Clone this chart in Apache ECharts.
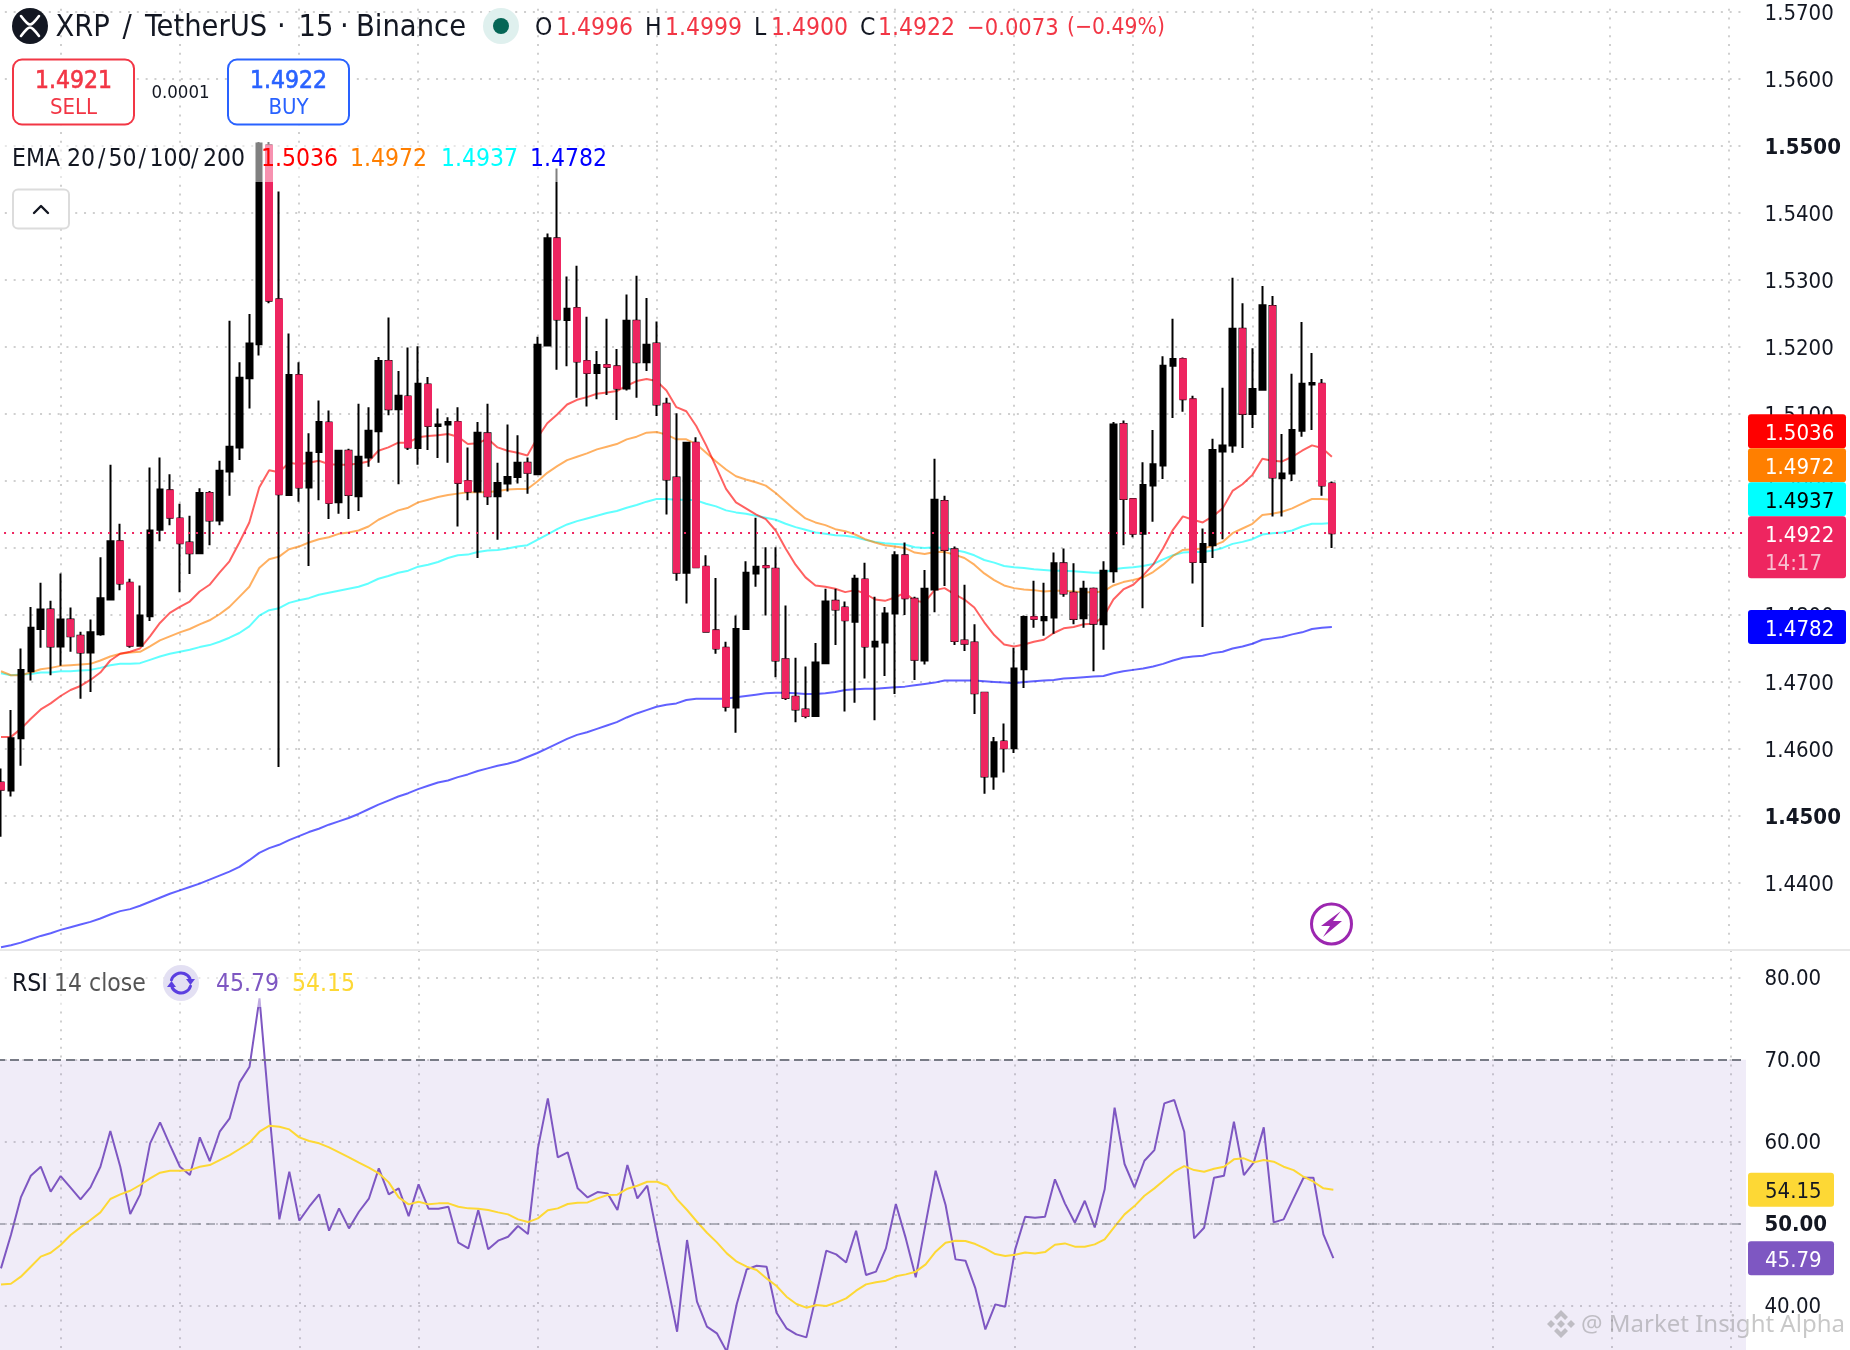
<!DOCTYPE html>
<html><head><meta charset="utf-8">
<style>html,body{margin:0;padding:0;background:#fff}#c{width:1850px;height:1350px}</style>
<script src="https://cdn.jsdelivr.net/npm/echarts@6/dist/echarts.min.js"></script>
</head><body><div id="c"></div>
<script>
const opens=[1.4550,1.4538,1.4616,1.4716,1.4779,1.4808,1.4753,1.4793,1.4769,1.4744,1.4771,1.4823,1.4910,1.4848,1.4754,1.4798,1.4927,1.4986,1.4944,1.4908,1.4892,1.4982,1.4941,1.5014,1.5050,1.5153,1.5204,1.5501,1.5271,1.4979,1.5158,1.4990,1.5043,1.5087,1.4968,1.5045,1.4977,1.5035,1.5074,1.5179,1.5107,1.5126,1.5049,1.5144,1.5082,1.5084,1.5088,1.5000,1.4984,1.5071,1.4977,1.4996,1.5006,1.5027,1.5010,1.5202,1.5362,1.5240,1.5258,1.5179,1.5161,1.5173,1.5171,1.5138,1.5239,1.5177,1.5205,1.5115,1.5005,1.4863,1.5057,1.4872,1.4777,1.4751,1.4662,1.4779,1.4862,1.4873,1.4869,1.4734,1.4678,1.4659,1.4649,1.4728,1.4821,1.4811,1.4790,1.4853,1.4753,1.4759,1.4802,1.4889,1.4824,1.4732,1.4838,1.4970,1.4898,1.4762,1.4759,1.4684,1.4559,1.4611,1.4601,1.4719,1.4797,1.4792,1.4796,1.4877,1.4833,1.4795,1.4839,1.4786,1.4865,1.5085,1.4973,1.4921,1.4993,1.5023,1.5172,1.5182,1.5122,1.4879,1.4904,1.5044,1.5053,1.5227,1.5100,1.5136,1.5261,1.5004,1.5011,1.5075,1.5144,1.5145,1.4996];
const closes=[1.4539,1.4616,1.4718,1.4781,1.4808,1.4753,1.4793,1.4768,1.4744,1.4774,1.4825,1.4910,1.4847,1.4754,1.4799,1.4926,1.4987,1.4945,1.4907,1.4892,1.4982,1.4941,1.5015,1.5051,1.5154,1.5205,1.5503,1.5269,1.4980,1.5158,1.4990,1.5042,1.5088,1.4967,1.5045,1.4979,1.5036,1.5075,1.5179,1.5107,1.5127,1.5050,1.5145,1.5082,1.5084,1.5088,1.4997,1.4984,1.5072,1.4977,1.4997,1.5006,1.5027,1.5012,1.5203,1.5362,1.5241,1.5257,1.5178,1.5161,1.5173,1.5170,1.5138,1.5239,1.5177,1.5203,1.5114,1.5002,1.4863,1.5057,1.4871,1.4775,1.4750,1.4663,1.4779,1.4863,1.4872,1.4871,1.4732,1.4676,1.4659,1.4649,1.4729,1.4820,1.4808,1.4792,1.4854,1.4753,1.4760,1.4802,1.4889,1.4825,1.4733,1.4839,1.4972,1.4897,1.4761,1.4757,1.4683,1.4559,1.4610,1.4601,1.4720,1.4797,1.4794,1.4797,1.4877,1.4832,1.4794,1.4839,1.4787,1.4866,1.5084,1.4973,1.4921,1.4994,1.5025,1.5172,1.5182,1.5122,1.4879,1.4906,1.5046,1.5053,1.5227,1.5100,1.5137,1.5262,1.5005,1.5011,1.5076,1.5145,1.5146,1.4993,1.4922];
const lows=[1.4469,1.4529,1.4575,1.4702,1.4751,1.4710,1.4724,1.4745,1.4675,1.4685,1.4769,1.4823,1.4837,1.4751,1.4754,1.4791,1.4910,1.4934,1.4834,1.4861,1.4892,1.4904,1.4934,1.4978,1.5031,1.5108,1.5187,1.5265,1.4573,1.4979,1.4969,1.4873,1.4971,1.4943,1.4951,1.4943,1.4955,1.5021,1.5027,1.5098,1.4995,1.5046,1.5024,1.5046,1.5034,1.5027,1.4932,1.4971,1.4885,1.4964,1.4912,1.4984,1.4996,1.4981,1.5009,1.5202,1.5166,1.5171,1.5124,1.5111,1.5122,1.5128,1.5091,1.5135,1.5124,1.5164,1.5097,1.4950,1.4851,1.4817,1.4871,1.4775,1.4742,1.4656,1.4624,1.4779,1.4842,1.4799,1.4707,1.4673,1.4640,1.4646,1.4649,1.4728,1.4755,1.4656,1.4669,1.4705,1.4643,1.4709,1.4682,1.4800,1.4703,1.4726,1.4804,1.4843,1.4755,1.4746,1.4652,1.4533,1.4539,1.4565,1.4594,1.4691,1.4781,1.4769,1.4772,1.4827,1.4786,1.4781,1.4716,1.4748,1.4848,1.4904,1.4916,1.4810,1.4939,1.5003,1.5094,1.5103,1.4847,1.4782,1.4885,1.4913,1.5042,1.5049,1.5079,1.5136,1.4947,1.4947,1.5000,1.5066,1.5076,1.4978,1.4900];
const highs=[1.4571,1.4658,1.4750,1.4812,1.4848,1.4821,1.4862,1.4811,1.4775,1.4793,1.4886,1.5024,1.4936,1.4854,1.4844,1.5020,1.5035,1.5010,1.4966,1.4948,1.4989,1.4985,1.5030,1.5239,1.5177,1.5249,1.5505,1.5505,1.5432,1.5220,1.5177,1.5071,1.5120,1.5105,1.5045,1.5048,1.5115,1.5110,1.5185,1.5244,1.5164,1.5199,1.5201,1.5155,1.5108,1.5095,1.5110,1.5050,1.5088,1.5115,1.5027,1.5084,1.5068,1.5035,1.5215,1.5369,1.5466,1.5305,1.5321,1.5245,1.5194,1.5242,1.5197,1.5278,1.5306,1.5273,1.5238,1.5124,1.5101,1.5057,1.5065,1.4889,1.4855,1.4760,1.4799,1.4880,1.4945,1.4901,1.4901,1.4814,1.4736,1.4723,1.4758,1.4839,1.4839,1.4820,1.4860,1.4878,1.4827,1.4812,1.4895,1.4908,1.4827,1.4867,1.5033,1.4978,1.4902,1.4845,1.4786,1.4684,1.4618,1.4638,1.4751,1.4799,1.4851,1.4848,1.4893,1.4899,1.4877,1.4851,1.4841,1.4880,1.5088,1.5090,1.4973,1.5028,1.5076,1.5186,1.5242,1.5184,1.5127,1.4929,1.5063,1.5139,1.5303,1.5265,1.5198,1.5291,1.5276,1.5070,1.5160,1.5237,1.5191,1.5152,1.4999];
const ema20=[1.4618,1.4618,1.4630,1.4645,1.4659,1.4668,1.4679,1.4688,1.4694,1.4703,1.4714,1.4732,1.4742,1.4745,1.4750,1.4768,1.4788,1.4803,1.4812,1.4820,1.4835,1.4845,1.4863,1.4880,1.4908,1.4938,1.4990,1.5016,1.5013,1.5027,1.5025,1.5027,1.5030,1.5025,1.5024,1.5024,1.5026,1.5029,1.5045,1.5050,1.5057,1.5057,1.5065,1.5067,1.5068,1.5070,1.5066,1.5055,1.5056,1.5063,1.5050,1.5045,1.5042,1.5038,1.5064,1.5086,1.5099,1.5114,1.5121,1.5125,1.5130,1.5132,1.5134,1.5142,1.5149,1.5152,1.5149,1.5135,1.5110,1.5104,1.5082,1.5053,1.5021,1.4988,1.4968,1.4959,1.4950,1.4943,1.4926,1.4899,1.4875,1.4856,1.4844,1.4842,1.4839,1.4834,1.4837,1.4832,1.4823,1.4821,1.4826,1.4833,1.4821,1.4819,1.4837,1.4840,1.4831,1.4823,1.4811,1.4789,1.4770,1.4756,1.4753,1.4756,1.4760,1.4763,1.4773,1.4780,1.4782,1.4786,1.4787,1.4797,1.4823,1.4838,1.4845,1.4859,1.4875,1.4899,1.4927,1.4947,1.4942,1.4938,1.4947,1.4959,1.4985,1.4995,1.5009,1.5033,1.5030,1.5029,1.5036,1.5045,1.5053,1.5049,1.5036];
const ema50=[1.4716,1.4710,1.4710,1.4714,1.4719,1.4721,1.4724,1.4725,1.4726,1.4727,1.4732,1.4738,1.4742,1.4744,1.4745,1.4753,1.4762,1.4768,1.4774,1.4779,1.4786,1.4792,1.4801,1.4812,1.4827,1.4842,1.4870,1.4883,1.4887,1.4898,1.4902,1.4908,1.4913,1.4916,1.4921,1.4923,1.4926,1.4932,1.4942,1.4949,1.4956,1.4960,1.4968,1.4972,1.4976,1.4979,1.4981,1.4983,1.4983,1.4983,1.4985,1.4987,1.4988,1.4988,1.4999,1.5012,1.5022,1.5031,1.5036,1.5041,1.5047,1.5051,1.5055,1.5062,1.5066,1.5072,1.5073,1.5069,1.5062,1.5062,1.5055,1.5042,1.5029,1.5017,1.5007,1.5002,1.4998,1.4993,1.4982,1.4969,1.4956,1.4944,1.4938,1.4934,1.4928,1.4925,1.4920,1.4913,1.4908,1.4904,1.4902,1.4900,1.4893,1.4891,1.4894,1.4894,1.4890,1.4885,1.4875,1.4862,1.4852,1.4844,1.4840,1.4838,1.4837,1.4835,1.4836,1.4836,1.4835,1.4834,1.4834,1.4835,1.4844,1.4849,1.4852,1.4856,1.4864,1.4875,1.4888,1.4897,1.4898,1.4899,1.4903,1.4909,1.4922,1.4929,1.4936,1.4949,1.4951,1.4954,1.4959,1.4966,1.4973,1.4973,1.4972];
const ema100=[1.4713,1.4710,1.4711,1.4712,1.4714,1.4714,1.4716,1.4716,1.4717,1.4718,1.4721,1.4725,1.4727,1.4727,1.4728,1.4733,1.4738,1.4742,1.4745,1.4748,1.4752,1.4755,1.4760,1.4766,1.4773,1.4783,1.4799,1.4807,1.4810,1.4818,1.4822,1.4825,1.4830,1.4833,1.4836,1.4839,1.4842,1.4847,1.4854,1.4858,1.4863,1.4866,1.4872,1.4875,1.4879,1.4885,1.4889,1.4890,1.4894,1.4896,1.4897,1.4899,1.4902,1.4904,1.4912,1.4920,1.4928,1.4935,1.4940,1.4944,1.4948,1.4952,1.4955,1.4960,1.4964,1.4969,1.4973,1.4973,1.4972,1.4972,1.4971,1.4966,1.4962,1.4956,1.4953,1.4951,1.4948,1.4945,1.4942,1.4936,1.4931,1.4927,1.4923,1.4921,1.4919,1.4918,1.4916,1.4912,1.4909,1.4907,1.4906,1.4905,1.4901,1.4900,1.4901,1.4900,1.4897,1.4894,1.4889,1.4882,1.4878,1.4873,1.4871,1.4870,1.4868,1.4867,1.4866,1.4866,1.4865,1.4864,1.4863,1.4863,1.4868,1.4870,1.4871,1.4873,1.4876,1.4883,1.4889,1.4893,1.4894,1.4894,1.4896,1.4900,1.4906,1.4909,1.4913,1.4920,1.4922,1.4923,1.4926,1.4932,1.4936,1.4936,1.4937];
const ema200=[1.4304,1.4307,1.4311,1.4316,1.4321,1.4325,1.4330,1.4334,1.4338,1.4342,1.4347,1.4353,1.4358,1.4361,1.4366,1.4372,1.4378,1.4384,1.4389,1.4394,1.4399,1.4405,1.4411,1.4417,1.4424,1.4434,1.4445,1.4452,1.4457,1.4464,1.4470,1.4476,1.4481,1.4487,1.4492,1.4497,1.4503,1.4510,1.4517,1.4523,1.4529,1.4534,1.4540,1.4545,1.4550,1.4553,1.4558,1.4562,1.4567,1.4571,1.4575,1.4578,1.4582,1.4588,1.4594,1.4601,1.4608,1.4615,1.4621,1.4625,1.4630,1.4635,1.4640,1.4647,1.4653,1.4658,1.4663,1.4666,1.4668,1.4673,1.4675,1.4675,1.4675,1.4675,1.4677,1.4679,1.4681,1.4683,1.4684,1.4684,1.4683,1.4682,1.4682,1.4683,1.4685,1.4688,1.4689,1.4690,1.4690,1.4691,1.4692,1.4693,1.4695,1.4697,1.4699,1.4702,1.4702,1.4702,1.4702,1.4701,1.4700,1.4699,1.4698,1.4700,1.4701,1.4702,1.4703,1.4705,1.4706,1.4707,1.4708,1.4709,1.4713,1.4716,1.4718,1.4720,1.4723,1.4727,1.4732,1.4736,1.4738,1.4739,1.4743,1.4745,1.4750,1.4753,1.4757,1.4763,1.4765,1.4767,1.4771,1.4774,1.4779,1.4781,1.4782];
const rsi=[44.55,48.62,53.21,55.85,56.95,53.90,55.81,54.39,52.97,54.43,56.95,61.30,56.95,51.18,53.58,59.80,62.36,59.59,56.95,55.93,60.53,57.64,61.22,62.85,67.24,69.15,77.48,63.46,50.53,56.34,50.37,52.07,53.58,49.15,51.87,49.43,51.46,53.05,56.75,53.58,54.31,50.93,54.80,51.83,51.83,52.07,47.68,46.99,51.67,46.87,47.93,48.41,49.72,48.74,59.19,65.28,58.09,58.70,54.31,53.21,53.86,53.70,51.67,57.15,53.09,54.63,48.54,42.72,36.83,48.01,40.49,37.44,36.63,34.39,40.20,44.43,44.88,44.76,39.15,37.24,36.50,36.14,41.30,46.71,46.26,45.28,49.15,43.74,44.15,46.99,52.40,48.21,43.46,50.04,56.46,52.28,45.65,45.49,42.11,37.11,40.16,39.88,46.87,50.85,50.73,50.85,55.41,52.48,50.12,52.80,49.55,54.19,64.15,57.28,54.43,57.68,58.98,64.67,65.08,61.22,48.21,49.51,55.61,55.85,62.44,55.93,57.48,61.75,50.16,50.53,53.09,55.61,55.61,48.70,45.79];
const rsiMa=[42.60,42.68,43.54,44.76,45.98,46.46,47.40,48.62,49.55,50.45,51.38,53.01,53.58,54.02,54.72,55.53,56.22,56.46,56.46,56.54,56.95,57.15,57.76,58.37,59.11,59.88,61.22,61.95,61.83,61.50,60.53,60.08,59.80,59.31,58.70,58.09,57.44,56.83,56.14,55.04,53.21,52.36,52.68,52.36,52.48,52.48,52.07,51.87,51.83,51.67,51.38,51.14,50.53,50.20,50.65,51.63,51.87,52.40,52.56,52.60,53.09,53.50,53.54,54.27,54.63,55.12,55.12,54.63,52.97,51.67,50.24,48.90,47.72,46.38,45.37,44.76,44.35,43.33,42.40,41.10,40.20,39.76,40.08,39.96,40.37,40.89,41.83,42.60,42.85,43.05,43.58,43.82,44.15,45.04,46.59,47.68,47.93,47.89,47.52,46.95,46.30,46.06,46.22,46.50,46.38,46.54,47.44,47.60,47.20,47.20,47.48,48.09,49.63,51.14,52.15,53.41,54.31,55.33,56.34,57.03,56.54,56.34,56.71,56.95,57.85,57.97,57.48,57.76,57.56,56.95,56.54,55.73,55.12,54.31,54.15];
const slots=Array.from({length:176},(_,i)=>String(i));
const lastPrice=1.4922, emaLast=[1.5036,1.4972,1.4937,1.4782], rsiLast=45.79, rsiMaLast=54.15;

const F='"DejaVu Sans Condensed","DejaVu Sans",sans-serif';
const PINK='#EE2560', RED='#F23645', BLUE='#2962FF', RSI='#7E57C2', YEL='#FDD835';
const gridStyle={type:[2,6.8],color:'#cfcfcf',width:2};
const allCandles=opens.map((o,i)=>[o,closes[i],lows[i],highs[i]]);
const bodies=opens.map((o,i)=>closes[i]<o?[o,closes[i],closes[i],o]:'-');
function xAx(gi){return {type:'category',gridIndex:gi,data:slots,boundaryGap:true,axisLine:{show:false},axisTick:{show:false},axisLabel:{show:false},
  splitLine:{show:true,alignWithLabel:true,interval:i=>(i-6)%12===0&&i>=6,lineStyle:gridStyle}};}
function ema(name,data,c,extra){return Object.assign({name,type:'line',data,symbol:'none',xAxisIndex:0,yAxisIndex:0,z:1,silent:true,lineStyle:{color:c,width:2,opacity:.62},emphasis:{disabled:true}},extra||{});}
const chart=echarts.init(document.getElementById('c'),null,{renderer:'canvas',width:1850,height:1350});
chart.setOption({
  animation:false,backgroundColor:'#fff',
  grid:[{left:-3.96,top:0,width:1748,height:950,outerBoundsMode:'none'},{left:-4,top:950,width:1750,height:437.7,outerBoundsMode:'none'}],
  xAxis:[xAx(0),xAx(1)],
  yAxis:[
    {type:'value',gridIndex:0,position:'right',min:1.43,max:1.57176,interval:0.01,axisLine:{show:false},axisTick:{show:false},splitLine:{show:true,lineStyle:gridStyle},
     axisLabel:{showMaxLabel:false,showMinLabel:false,margin:20.5,padding:[4,0,0,0],color:'#131722',fontFamily:F,fontSize:22,
       formatter:v=>{const s=v.toFixed(4);return (s==='1.5500'||s==='1.4500')?'{b|'+s+'}':s;},
       rich:{b:{fontWeight:'bold',fontFamily:F,fontSize:22,color:'#131722'}}}},
    {type:'value',gridIndex:1,position:'right',min:30,max:83.38,interval:10,axisLine:{show:false},axisTick:{show:false},splitLine:{show:true,lineStyle:gridStyle},
     axisLabel:{showMaxLabel:false,showMinLabel:false,margin:18.5,padding:[4,0,0,0],color:'#131722',fontFamily:F,fontSize:22,
       formatter:v=>v===50?'{b|50.00}':v.toFixed(2),
       rich:{b:{fontWeight:'bold',fontFamily:F,fontSize:22,color:'#131722'}}}}
  ],
  series:[
    ema('EMA 200',ema200,'#0000ff'),ema('EMA 100',ema100,'#00ffff'),ema('EMA 50',ema50,'#ff7f00'),ema('EMA 20',ema20,'#ff0000'),
    {name:'XRP wicks',type:'candlestick',data:allCandles,xAxisIndex:0,yAxisIndex:0,barWidth:6,z:2,silent:true,
     itemStyle:{color:'#000',color0:'#000',borderColor:'#000',borderColor0:'#000',borderWidth:2}},
    {name:'XRP down bodies',type:'candlestick',data:bodies,xAxisIndex:0,yAxisIndex:0,barWidth:7,z:3,silent:true,
     itemStyle:{color:PINK,color0:PINK,borderColor:PINK,borderColor0:PINK,borderWidth:1}},
    ema('Last price',[],PINK,{z:5,markLine:{silent:true,symbol:'none',label:{show:false},precision:4,data:[{yAxis:lastPrice}],lineStyle:{color:PINK,type:[2,6],width:2}}}),
    {name:'RSI',type:'line',data:rsi,symbol:'none',xAxisIndex:1,yAxisIndex:1,z:3,silent:true,lineStyle:{color:RSI,width:2},
     markArea:{silent:true,itemStyle:{color:'rgba(126,87,194,0.115)'},data:[[{yAxis:30},{yAxis:70}]]},
     markLine:{silent:true,symbol:'none',label:{show:false},data:[
       {yAxis:70,lineStyle:{color:'#787B86',type:[9,5],width:2}},
       {yAxis:50,lineStyle:{color:'rgba(120,123,134,.55)',type:[9,5],width:2}}]}},
    {name:'RSI MA',type:'line',data:rsiMa,symbol:'none',xAxisIndex:1,yAxisIndex:1,z:4,silent:true,lineStyle:{color:YEL,width:2}}
  ]
});

const Z=100, DY=3.5;
const T=(x,y,text,fill,size,weight,align,family,sw)=>({type:'text',z:Z+3,silent:true,style:{x,y:y+DY,text,fill,stroke:sw?fill:null,lineWidth:sw||0,font:(weight||'normal')+' '+size+'px '+(family||F),align:align||'left',verticalAlign:'middle'}});
const R=(x,y,w,h,r,fill,stroke,lw,op)=>({type:'rect',z:Z+1,silent:true,shape:{x,y,width:w,height:h,r},style:{fill,stroke,lineWidth:lw||0,opacity:op==null?1:op}});
const PL=(points,stroke,lw,smooth)=>({type:'polyline',z:Z+2,silent:true,shape:{points,smooth:smooth||0},style:{fill:'none',stroke,lineWidth:lw,lineCap:'round',lineJoin:'round'}});
const PG=(points,fill)=>({type:'polygon',z:Z+2,silent:true,shape:{points},style:{fill}});
const A=(cx,cy,r,s,e,stroke,lw)=>({type:'arc',z:Z+2,silent:true,shape:{cx,cy,r,startAngle:s,endAngle:e,clockwise:true},style:{fill:'none',stroke,lineWidth:lw,lineCap:'round'}});
const C=(cx,cy,r,fill,stroke,lw)=>({type:'circle',z:Z+1,silent:true,shape:{cx,cy,r},style:{fill:fill||'none',stroke:stroke||'none',lineWidth:lw||0}});
const py=v=>chart.convertToPixel({yAxisIndex:0},v), ry=v=>chart.convertToPixel({yAxisIndex:1},v);
const els=[];
els.push(R(0,0,1850,3,0,'#ffffff'));
els.push(R(0,143,610,39,0,'#ffffff',null,0,.5));
els.push(R(0,968,370,39,0,'#ffffff',null,0,.5));
els.push({type:'rect',z:Z,silent:true,shape:{x:0,y:949,width:1850,height:2},style:{fill:'#e8e8e8'}});
els.push(C(30,26,18,'#131722'));
els.push(PL([[21,16],[27,23],[30,24.5],[33,23],[39,16]],'#fff',2.6,.4));
els.push(PL([[21,36],[27,29],[30,27.5],[33,29],[39,36]],'#fff',2.6,.4));
[[55.5,'XRP'],[122.5,'/'],[145,'TetherUS'],[277,'·'],[298.5,'15'],[340,'·'],[356,'Binance']].forEach(a=>els.push(T(a[0],25,a[1],'#131722',30.5)));
els.push(C(501,26,18,'#dff0ee'));els.push(C(501,26,8,'#056656'));
[[535,'O'],[645,'H'],[754,'L'],[860,'C']].forEach(a=>els.push(T(a[0],25,a[1],'#131722',24.5)));
[[556,'1.4996',24.5],[665,'1.4999',24.5],[771,'1.4900',24.5],[878,'1.4922',24.5],[967,'−0.0073',23.5],[1067,'(−0.49%)',22.7]].forEach(a=>els.push(T(a[0],25,a[1],RED,a[2])));
els.push(R(13,59.5,121,65,9,'#fff',RED,2));
els.push(R(228,59.5,121,65,9,'#fff',BLUE,2));
els.push(T(73.5,78,'1.4921',RED,24.5,'normal','center',null,.6));els.push(T(73.5,105,'SELL',RED,22,'normal','center'));
els.push(T(288.5,78,'1.4922',BLUE,24.5,'normal','center',null,.6));els.push(T(288.5,105,'BUY',BLUE,22,'normal','center'));
els.push(T(180.5,90,'0.0001','#131722',18.5,'normal','center'));
[[12,'EMA'],[67,'20'],[98,'/'],[108.5,'50'],[138.4,'/'],[149.5,'100'],[191,'/'],[203,'200']].forEach(a=>els.push(T(a[0],156,a[1],'#131722',24.5)));
[[261,emaLast[0],'#ff0000'],[350,emaLast[1],'#ff7f00'],[441,emaLast[2],'#00ffff'],[530,emaLast[3],'#0000ff']].forEach(a=>els.push(T(a[0],156,a[1].toFixed(4),a[2],24.5)));
els.push(R(13,189.5,56,39,5,'#fff','#dcdcdc',2));
els.push(PL([[34,213],[41,206],[48,213]],'#131722',2.4));
els.push(T(12,981,'RSI','#131722',24.5));els.push(T(54,981,'14 close','#555',24.5));
els.push(C(181,983,18,'#e3e0f3'));
els.push(A(181,983,10,Math.PI*1.1,Math.PI*1.85,'#5B3FE0',3));
els.push(A(181,983,10,Math.PI*0.1,Math.PI*0.85,'#5B3FE0',3));
els.push(PG([[186,979],[195,979],[190.5,985]],'#5B3FE0'));
els.push(PG([[167,987],[176,987],[171.5,981]],'#5B3FE0'));
els.push(T(216,981,rsiLast.toFixed(2),RSI,24.5));els.push(T(292,981,rsiMaLast.toFixed(2),YEL,24.5));
const tag=(y,h,fill)=>R(1748,y,98,h,3,fill);
const yLast=py(lastPrice);
const tagTop=yLast-17;
[['#ff0000',emaLast[0],'#fff',3],['#ff7f00',emaLast[1],'#fff',2],['#00ffff',emaLast[2],'#000',1]].forEach(a=>{
  const y=tagTop-34*a[3];els.push(tag(y,34,a[0]));els.push(T(1765,y+16.5,a[1].toFixed(4),a[2],22));});
els.push(tag(tagTop,62,PINK));els.push(T(1765,yLast-.5,lastPrice.toFixed(4),'#fff',22));els.push(T(1765,yLast+28,'14:17','#F8BFD0',22));
const yb=py(emaLast[3]);els.push(tag(yb-17,34,'#0000ff'));els.push(T(1765,yb-.5,emaLast[3].toFixed(4),'#fff',22));
const y1=ry(rsiMaLast),y2=ry(rsiLast);
els.push(R(1748,y1-17,86,34,3,YEL));els.push(T(1765,y1-.5,rsiMaLast.toFixed(2),'#131722',22));
els.push(R(1748,y2-17,86,34,3,RSI));els.push(T(1765,y2-.5,rsiLast.toFixed(2),'#fff',22));
els.push(C(1331.5,924,20,'#fff','#9C27B0',3));
els.push(PG([[1341,911],[1321,926],[1330,926],[1323,937],[1342,921],[1333,921]],'#9C27B0'));
const WM='rgba(125,125,125,.42)';
[[[1561,1310],[1568,1317],[1565,1320],[1561,1316],[1557,1320],[1554,1317]],
 [[1561,1338],[1568,1331],[1565,1328],[1561,1332],[1557,1328],[1554,1331]],
 [[1547,1324],[1551,1320],[1555,1324],[1551,1328]],
 [[1575,1324],[1571,1320],[1567,1324],[1571,1328]],
 [[1561,1320],[1565,1324],[1561,1328],[1557,1324]]].forEach(p=>els.push(PG(p,WM)));
els.push(T(1581,1322,'@ Market Insight Alpha',WM,24,'normal','left','"Noto Sans",sans-serif'));
chart.setOption({graphic:{elements:els}});
</script></body></html>
